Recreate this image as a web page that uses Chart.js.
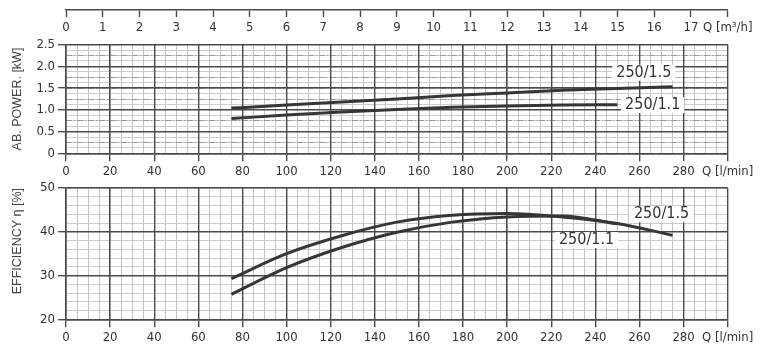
<!DOCTYPE html>
<html><head><meta charset="utf-8">
<script src="https://cdn.jsdelivr.net/npm/chart.js@4.4.1/dist/chart.umd.min.js"></script>
<style>
html,body{margin:0;padding:0;background:#fff;}
#wrap{position:relative;width:768px;height:354px;overflow:hidden;background:#fff;}
canvas{position:absolute;left:0;top:0;width:768px;height:354px;}
</style></head><body>
<div id="wrap">
<canvas id="cTop" width="768" height="354"></canvas>
<canvas id="cPow" width="768" height="354"></canvas>
<canvas id="cEff" width="768" height="354"></canvas>
</div>
<script>
// ---- data (flow Q in l/min) ----
const qPow15 = [75, 100, 125, 150, 175, 200, 225, 250, 275];
const pow15  = [1.04, 1.11, 1.18, 1.25, 1.33, 1.39, 1.45, 1.49, 1.53];
const qPow11 = [75, 100, 125, 150, 175, 200, 225, 250];
const pow11  = [0.80, 0.88, 0.95, 1.01, 1.06, 1.09, 1.11, 1.12];
const qEff15 = [75, 100, 125, 150, 175, 200, 225, 250, 275];
const eff15  = [29.3, 35.0, 39.1, 42.2, 43.8, 44.2, 43.4, 41.9, 39.2];
const qEff11 = [75, 100, 125, 150, 175, 200, 225, 250];
const eff11  = [25.7, 31.8, 36.4, 39.9, 42.2, 43.4, 43.6, 41.8];
const seriesNames = ['250/1.5', '250/1.1'];
const powerTicks = [0, 0.5, 1.0, 1.5, 2.0, 2.5];
const effTicks = [20, 30, 40, 50];
// label anchors in data units
const powLabelQ = [262, 266];
const powLabelV = [1.855, 1.11];
const effLabelQ = [270, 236];
const effLabelV = [44.0, 38.1];

const TICKFONT = {family: "'DejaVu Sans Condensed','Liberation Sans Narrow','DejaVu Sans',sans-serif", size: 13};
const TITLEFONT = {family: "'Liberation Sans','Arial',sans-serif", size: 12.5};
const LABELFONT = "16px 'DejaVu Sans Condensed','Liberation Sans Narrow','DejaVu Sans',sans-serif";
const INK = '#333';
const MAJOR = '#4a4a4a';

const pts = (xs, ys) => xs.map((x, i) => ({x, y: ys[i]}));

const curveLabelPlugin = {
  id: 'curveLabels',
  afterDatasetsDraw(chart, args, opts) {
    const {ctx} = chart;
    const x = chart.scales.x, y = chart.scales.y;
    ctx.save();
    ctx.font = LABELFONT;
    ctx.textAlign = 'center';
    ctx.textBaseline = 'middle';
    (opts.items || []).forEach(it => {
      const px = x.getPixelForValue(it.q), py = y.getPixelForValue(it.v);
      const w = ctx.measureText(it.text).width;
      ctx.fillStyle = '#fff';
      ctx.fillRect(px - w / 2 - 4, py - 8, w + 8, 16);
      ctx.fillStyle = INK;
      ctx.fillText(it.text, px, py);
    });
    ctx.restore();
  }
};

const X0 = 66, X1 = 727.7;

// ---- top m3/h axis ----
new Chart(document.getElementById('cTop'), {
  type: 'line',
  data: {datasets: []},
  options: {
    responsive: false, animation: false, events: [],
    plugins: {legend: {display: false}, tooltip: {enabled: false}},
    layout: {padding: {left: X0, right: 768 - X1, top: 9, bottom: 354 - 10 - 30}},
    scales: {
      x: {
        type: 'linear', position: 'bottom', min: 0, max: 18,
        ticks: {stepSize: 1, autoSkip: false, maxRotation: 0, padding: 3, color: INK, font: TICKFONT,
          callback: v => v === 18 ? 'Q [m³/h]' : String(v)},
        grid: {drawOnChartArea: false, drawTicks: true, tickLength: 7, tickColor: MAJOR, tickWidth: 1.4},
        border: {display: true, color: MAJOR, width: 1.6},
        afterFit: s => { s.height = 30; }
      },
      y: {display: false, min: 0, max: 1}
    }
  }
});

function panelOptions(cfg) {
  return {
    responsive: false, animation: false, events: [],
    plugins: {legend: {display: false}, tooltip: {enabled: false}, curveLabels: {items: cfg.labels}},
    layout: {padding: {left: 10, right: 768 - X1, top: cfg.top, bottom: 354 - cfg.bottom - 24}},
    elements: {point: {radius: 0}, line: {borderWidth: 3, borderColor: '#363636', tension: 0}},
    scales: {
      x: {
        type: 'linear', position: 'bottom', min: 0, max: 300,
        ticks: {stepSize: 20, autoSkip: false, maxRotation: 0, padding: 3, color: INK, font: TICKFONT,
          callback: v => v === 300 ? 'Q [l/min]' : String(v)},
        grid: {color: MAJOR, lineWidth: 1.4, tickLength: 8, tickColor: MAJOR, tickWidth: 1.4, z: -1},
        border: {display: true, color: MAJOR, width: 1.4},
        afterFit: s => { s.height = 24; }
      },
      xMinor: {
        type: 'linear', position: 'bottom', min: 0, max: 300,
        ticks: {display: false, stepSize: 5},
        grid: {color: '#c4c4c4', lineWidth: 1, drawTicks: false, z: -3},
        border: {display: false},
        afterFit: s => { s.height = 0; }
      },
      y: {
        type: 'linear', position: 'left', min: cfg.ymin, max: cfg.ymax,
        ticks: {stepSize: cfg.ystep, padding: 3, color: INK, font: TICKFONT, callback: cfg.yfmt},
        grid: {color: MAJOR, lineWidth: 1.4, tickLength: 8, tickColor: MAJOR, tickWidth: 1.4, z: -1},
        border: {display: true, color: MAJOR, width: 1.4},
        title: {display: true, text: cfg.title, padding: 0, color: '#444', font: TITLEFONT, align: cfg.titleAlign},
        afterFit: s => { s.width = 56; }
      },
      yMinor: {
        type: 'linear', position: 'left', min: cfg.ymin, max: cfg.ymax,
        ticks: {display: false, stepSize: cfg.yminor},
        grid: {color: '#cccccc', lineWidth: 1, drawTicks: false, z: -3},
        border: {display: false},
        afterFit: s => { s.width = 0; }
      },
      yMid: {
        type: 'linear', position: 'left', min: cfg.ymin, max: cfg.ymax, display: cfg.ymid ? true : false,
        ticks: {display: false, stepSize: cfg.ymid || cfg.ystep},
        grid: {color: '#9a9a9a', lineWidth: 1, drawTicks: false, z: -2},
        border: {display: false, dash: [6, 2, 1, 2]},
        afterFit: s => { s.width = 0; }
      }
    }
  };
}

new Chart(document.getElementById('cPow'), {
  type: 'line',
  data: {datasets: [
    {label: seriesNames[0], data: pts(qPow15, pow15), cubicInterpolationMode: 'monotone', fill: false},
    {label: seriesNames[1], data: pts(qPow11, pow11), cubicInterpolationMode: 'monotone', fill: false}
  ]},
  options: panelOptions({
    top: 44.7, bottom: 153.3, ymin: 0, ymax: 2.5, ystep: 0.5, yminor: 0.125, ymid: 0.25,
    yfmt: v => v === 0 ? '0' : v.toFixed(1),
    title: 'AB. POWER. [kW]', titleAlign: 'center',
    labels: [
      {text: seriesNames[0], q: powLabelQ[0], v: powLabelV[0]},
      {text: seriesNames[1], q: powLabelQ[1], v: powLabelV[1]}
    ]
  }),
  plugins: [curveLabelPlugin]
});

new Chart(document.getElementById('cEff'), {
  type: 'line',
  data: {datasets: [
    {label: seriesNames[0], data: pts(qEff15, eff15), cubicInterpolationMode: 'monotone', fill: false},
    {label: seriesNames[1], data: pts(qEff11, eff11), cubicInterpolationMode: 'monotone', fill: false}
  ]},
  options: panelOptions({
    top: 188, bottom: 319.3, ymin: 20, ymax: 50, ystep: 10, yminor: 2, ymid: 0,
    yfmt: v => String(v),
    title: 'EFFICIENCY η [%]', titleAlign: 'end',
    labels: [
      {text: seriesNames[0], q: effLabelQ[0], v: effLabelV[0]},
      {text: seriesNames[1], q: effLabelQ[1], v: effLabelV[1]}
    ]
  }),
  plugins: [curveLabelPlugin]
});
</script>
</body></html>
